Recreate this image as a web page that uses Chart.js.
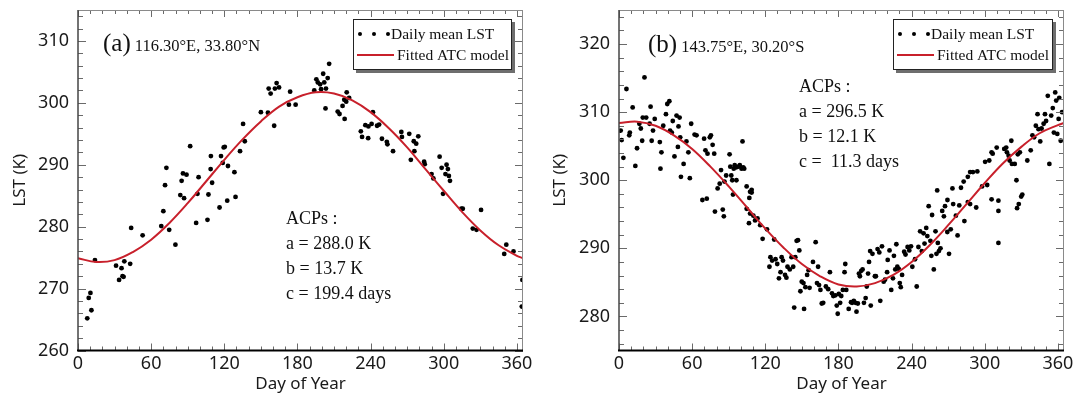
<!DOCTYPE html>
<html><head><meta charset="utf-8">
<script src="https://cdn.jsdelivr.net/npm/chart.js@4.4.1/dist/chart.umd.min.js"></script>
<style>
html,body{margin:0;padding:0;background:#fff;width:1074px;height:396px;overflow:hidden}
.p{position:absolute;top:0;width:537px;height:396px}
#pa{left:0}#pb{left:537px}
</style></head><body>
<div class="p" id="pa"><canvas id="ca" width="537" height="396"></canvas></div>
<div class="p" id="pb"><canvas id="cb" width="537" height="396"></canvas></div>
<script>
// ---------- data ----------
const xTickLabels = [0, 60, 120, 180, 240, 300, 360];
const yTickLabelsA = [260, 270, 280, 290, 300, 310];
const yTickLabelsB = [280, 290, 300, 310, 320];
const seriesNames = ['Daily mean LST', 'Fitted ATC model'];

// panel (a) daily mean LST [day, K]
const obsA = [
[7.6,265.2],[8.8,268.5],[10.2,269.3],[11,266.5],[13.9,274.6],[31.2,273.7],[33.7,271.4],[35.7,273.3],
[36.5,272],[37.4,271.9],[38,274.4],[42.8,274],[43.6,279.8],[53,278.6],[68.3,280.1],[70,282.5],
[71.4,286.7],[72.5,289.5],[74.8,279.5],[79.9,277.1],[83.9,285.1],[85,287.4],[86.1,288.6],[87,284.6],
[89,288.4],[92,293],[96.9,280.6],[98,285.3],[98.9,288],[106.2,281.1],[107,285.2],[108.8,289.3],
[109,291.4],[110,287.1],[116.1,283.1],[117.3,291.4],[118.7,290.3],[119.5,292.8],[120.4,292.9],[122.4,284.2],
[123,289.8],[128.3,288.8],[129.2,284.8],[132.9,292.2],[135.4,296.6],[136.8,293.8],[150,298.5],[155.8,298.4],
[156.4,302.3],[158,301.5],[160.9,296.3],[161.5,302.3],[162.9,303.2],[164.9,302.5],[173,299.7],[174,301.8],
[178.5,299.7],[193.8,302],[195.5,303.8],[196.7,303.3],[198.6,303],[199.4,302.2],[201.1,304.7],[202,303.3],
[203,299.1],[203.4,302.3],[204.8,304],[206,306.3],[213,298.6],[214.5,298.2],[217,299.5],[218.4,300.5],
[218.7,297.4],[220,300.2],[220.4,301.7],[222.4,300.8],[232,295.4],[233,294.5],[235.7,296.4],[238,294.3],
[238.2,296.2],[240.8,296.6],[241.9,298.5],[245.3,296.3],[247,296.5],[249.3,294.2],[253.3,293.7],[253.8,293.3],
[258.4,292.2],[265.2,295.3],[265.7,294.5],[271.7,295],[273,290.8],[275.4,293.8],[275.9,292.2],[277.4,293.4],
[279.1,294.6],[283.9,290.5],[284.4,290.1],[290,288.5],[291.5,287.8],[296.6,291.3],[298.3,289.5],[299.4,285.3],
[301.4,288.5],[302.3,290],[303.4,289.3],[304.2,288.2],[305.1,287.4],[314.4,282.9],[315.6,282.9],[323.8,279.7],
[326.9,279.5],[330.6,282.7],[349.6,275.6],[351.3,277.1],[357.2,276],[364.5,271.4],[364,267.1]
];

// panel (b) daily mean LST [day, K]
const obsB = [
[1.4,307.3],[2.2,305.9],[3.6,303.3],[6.1,313.4],[8.4,306.6],[8.9,307],[11.2,310.7],[13.4,302.1],
[14.8,304.7],[16.7,308.3],[17.9,307.6],[19.5,309.2],[20.9,315.1],[19,305.8],[22.3,309.2],[25.1,308.3],
[25.9,310.8],[26.8,305.8],[27.9,307.3],[29.3,309],[33.5,305.6],[34.8,304.1],[34,301.7],[36.3,308],
[38.5,309.7],[39.6,311.2],[41.3,311.6],[41.9,307.3],[43.3,307],[44.1,308.7],[45.5,303.5],[47.2,309.5],
[48.3,304.9],[48.8,307.9],[49.7,309.2],[50.2,306.3],[50.8,300.5],[53,302.4],[55.3,305.7],[56.9,304.1],
[58.1,300.3],[59.2,308.3],[62,306.7],[63.6,306.6],[69.8,306.1],[70.9,304.4],[72.6,303.9],[74.5,306.3],
[75.4,306.6],[76.8,305.2],[78.1,303.9],[80.9,298.8],[82.6,299.5],[83.7,301.5],[86.5,299.8],[87.9,300.7],
[90.7,303.8],[91.3,302],[92.1,300.7],[92.9,300],[94.1,301.7],[94.9,302.2],[96.3,301.9],[97.7,302],
[99.1,302.2],[100.5,301.7],[101.9,301.9],[102.7,301.7],[101.3,305.7],[96.3,300],[104.7,299.1],[107.5,298.3],
[108.8,298.6],[261,298.5],[269.4,297.1],[273.5,298.8],[280.5,298.9],[282.7,299.8],[286.1,300.5],[288,301.2],
[290.3,301.2],[293.9,301.3],[297.8,299.1],[300.3,302.7],[302,299.3],[303.7,302.9],[305.6,304.1],[306.5,303.9],
[309.8,304.8],[316,304.6],[317.6,304.8],[318.2,304.1],[319.6,303.6],[320.4,302.9],[321.8,305.8],[322.3,302.4],
[324.6,302.4],[326,300],[327.1,303.8],[328.8,304.1],[334.9,302.9],[337.7,304.4],[339.1,306.6],[340.5,306.3],
[341.9,308],[343.3,309.7],[344.1,307.5],[345.5,305.7],[346.6,307.6],[348.3,308.3],[349.4,309.7],[350.3,308.7],
[351.7,312.4],[353,302.4],[354.5,309.5],[355.8,310.6],[356.7,307],[357.8,312.9],[358.6,311.7],[359.5,306.8],
[360.6,309],[361.1,312.1],[362.3,305.8],[363.4,310],
[68.4,297.1],[72,297.3],[78.7,295.4],[85.1,295.7],[86,294.7],[93.5,297.9],[104.7,295.8],[106.6,293.7],
[106.9,297.4],[108.8,298.2],[107.5,295.1],[110.2,294.8],[111.6,294.1],[113.6,294.4],[115.8,293.4],[117.8,291.4],
[121.4,292.8],[123.4,287.3],[124.2,288.7],[125.6,288.2],[127.3,291.3],[128.4,288.4],[129.8,287.7],[131.2,285.6],
[132.5,286.5],[133.4,288.7],[134.5,288.2],[136.2,286.1],[137.3,285.7],[138.2,287.3],[140.1,286.9],[141.5,288.7],
[142.9,287.3],[143.7,281.3],[144.6,288.7],[145.7,291.1],[146.8,291.2],[147.9,289.7],[148.8,283.7],[149.9,285.1],
[151.3,284.9],[151.8,281.1],[152.9,284.3],[154.3,286.1],[155.5,286.8],[156.3,284.2],[159.1,288],[161.3,290.9],
[162.4,284.9],[163.3,287.3],[164.1,284.6],[165.2,283.9],[166.3,281.9],[167.5,282],[169.7,284.4],[171.6,284],
[173,286.5],[174.7,283.4],[175.8,283],[177.5,283.1],[178.6,281.6],[179.4,280.4],[180.3,283.3],[181.4,282],
[182.3,283],[183.6,283.9],[185,286.5],[185.6,287.7],[186.4,283.9],[188.4,281.1],[190.3,282.1],[191.2,282],
[192.6,282.3],[194,282],[194.8,280.7],[195.9,281.9],[196.8,286.3],[197.6,285.9],[198.7,286.7],[199.8,286.9],
[200.9,282],[202.3,282.7],[203.2,284.4],[204.3,286.3],[205.1,288],[206,289.6],[206.5,281.6],[207.9,289.2],
[209.9,285.9],[210.7,285.9],[212.1,289.9],[213.5,289.4],[214.3,282.3],[215.7,290.3],[217.1,285.1],[218.2,285.4],
[219.9,286.5],[220.4,288.3],[221.9,289.7],[223.3,283.9],[224.7,285.6],[225.5,288.9],[226.6,286.9],[227.5,290.6],
[228.3,287.3],[229.4,287],[230.3,284.9],[231.1,284.3],[232.2,286.1],[233.9,289.5],[235,289.1],[236.7,290.2],
[238.1,289.7],[239.5,290.3],[240.6,287.3],[242.8,288.4],[244.2,284.4],[245.6,290.2],[247,292.5],[248.4,289.6],
[249.8,292.2],[250.6,290.7],[252,293],[252.9,291.8],[254,296.2],[255.4,291.1],[256.2,288.9],[256.8,294.9],
[258.2,286.9],[259.6,292.5],[260.4,289.2],[261.5,290.8],[262.4,289.6],[263.7,290],[265.1,295.5],[266.5,294.7],
[267.4,296.2],[269.3,292.4],[270.7,289.2],[272.1,292.8],[274.1,296.5],[276.3,294.8],[277.7,291.9],[279.1,296.3],
[283.3,294],[286.1,296.8],[288,296.5],[293,296],[305.6,297.2],[311.2,297],[311.2,295.5],[311.2,290.8],
[326.5,295.9],[327.9,296.5],[329.9,297.6],[330.8,297.9]
];

// fitted ATC curves
const curveDays = [0,15,30,45,60,75,90,105,120,135,150,165,180,195,210,225,240,255,270,285,300,315,330,345,360,365];
const fitA = [274.9,274.3,274.6,275.9,277.9,280.6,283.8,287.3,290.8,294.1,297.0,299.4,300.9,301.7,301.5,300.4,298.5,295.9,292.8,289.3,285.8,282.4,279.4,277.0,275.3,274.9];
const fitB = [308.4,308.6,308.0,306.6,304.6,302.0,299.1,296.0,292.9,290.1,287.7,285.9,284.7,284.4,284.9,286.1,288.0,290.5,293.4,296.5,299.6,302.5,304.9,306.9,308.1,308.4];

const labelA = '(a)', coordA = '116.30°E, 33.80°N';
const labelB = '(b)', coordB = '143.75°E, 30.20°S';
const acpA = ['ACPs :', 'a = 288.0 K', 'b = 13.7 K', 'c = 199.4 days'];
const acpB = ['ACPs :', 'a = 296.5 K', 'b = 12.1 K', 'c =  11.3 days'];

// ---------- drawing ----------
const SANS = "'Noto Sans', 'Open Sans', sans-serif";
const SERIF = "'Liberation Serif', 'Times New Roman', serif";
const RED = '#c8202b';

const framePlugin = {
  id: 'frame',
  afterDatasetsDraw(chart) {
    const {ctx, chartArea: a, scales: {x, y}} = chart;
    ctx.save();
    ctx.strokeStyle = '#6a6a6a'; ctx.lineWidth = 1;
    ctx.beginPath();
    for (let d = 0; d <= 360; d += 10) {
      const px = Math.round(x.getPixelForValue(d)) + 0.5;
      const L = d % 60 === 0 ? 7 : 4;
      ctx.moveTo(px, a.bottom); ctx.lineTo(px, a.bottom - L);
      ctx.moveTo(px, a.top); ctx.lineTo(px, a.top + L);
    }
    for (let v = Math.ceil(y.min / 2) * 2; v <= y.max; v += 2) {
      const py = Math.round(y.getPixelForValue(v)) + 0.5;
      const L = v % 10 === 0 ? 8 : 5;
      ctx.moveTo(a.left, py); ctx.lineTo(a.left + L, py);
      ctx.moveTo(a.right, py); ctx.lineTo(a.right - L, py);
    }
    ctx.stroke();
    ctx.strokeStyle = '#8a8a8a'; ctx.lineWidth = 1;
    ctx.beginPath();
    ctx.moveTo(a.left, a.top + 0.5); ctx.lineTo(a.right, a.top + 0.5);
    ctx.moveTo(a.right - 0.5, a.top); ctx.lineTo(a.right - 0.5, a.bottom);
    ctx.stroke();
    ctx.strokeStyle = '#444'; ctx.lineWidth = 1.5;
    ctx.beginPath(); ctx.moveTo(a.left, a.top); ctx.lineTo(a.left, a.bottom); ctx.stroke();
    ctx.strokeStyle = '#000'; ctx.lineWidth = 2;
    ctx.beginPath(); ctx.moveTo(a.left - 1, a.bottom); ctx.lineTo(a.right, a.bottom); ctx.stroke();
    ctx.restore();
  },
  afterDraw(chart, args, o) {
    const ctx = chart.ctx;
    const ox = o.offsetX;
    ctx.save();
    ctx.fillStyle = '#111';
    ctx.textBaseline = 'alphabetic'; ctx.textAlign = 'left';
    ctx.font = '25px ' + SERIF;
    ctx.fillText(o.label, o.labelX - ox, o.labelY);
    const lw = ctx.measureText(o.label).width;
    ctx.font = '16.5px ' + SERIF;
    ctx.fillText(o.coord, o.labelX - ox + lw + 4, o.labelY);
    ctx.font = '18px ' + SERIF;
    ctx.textBaseline = 'middle';
    o.acp.forEach((t, i) => ctx.fillText(t, o.acpX - ox, o.acpY + i * 25));
    // legend box
    const bx = o.box[0] - ox, by = o.box[1], bw = o.box[2], bh = o.box[3];
    ctx.fillStyle = '#6e6e6e'; ctx.fillRect(bx + 3, by + 3, bw, bh);
    ctx.fillStyle = '#fff'; ctx.fillRect(bx, by, bw, bh);
    ctx.strokeStyle = '#222'; ctx.lineWidth = 1;
    ctx.strokeRect(bx + 0.5, by + 0.5, bw - 1, bh - 1);
    const y1 = by + 15, y2 = by + 36;
    ctx.fillStyle = '#000';
    [7, 21, 35].forEach(dx => { ctx.beginPath(); ctx.arc(bx + dx, y1, 2, 0, Math.PI * 2); ctx.fill(); });
    ctx.strokeStyle = RED; ctx.lineWidth = 2;
    ctx.beginPath(); ctx.moveTo(bx + 4, y2); ctx.lineTo(bx + 41, y2); ctx.stroke();
    ctx.fillStyle = '#111';
    ctx.font = '15.5px ' + SERIF;
    ctx.fillText(chart.data.datasets[0].label, bx + 38, y1 + 1);
    ctx.fillText(chart.data.datasets[1].label, bx + 44, y2 + 1);
    ctx.restore();
  }
};

function makeChart(id, obs, fit, yMin, yMax, yTicks, axW, padR, titlePad, annot) {
  return new Chart(document.getElementById(id), {
    type: 'scatter',
    data: {
      datasets: [
        { label: seriesNames[0], data: obs.map(p => ({x: p[0], y: p[1]})),
          pointRadius: 2.4, pointBackgroundColor: '#000', pointBorderWidth: 0, showLine: false, order: 2 },
        { label: seriesNames[1], type: 'line', data: curveDays.map((d, i) => ({x: d, y: fit[i]})),
          borderColor: RED, borderWidth: 2, pointRadius: 0, tension: 0.4, fill: false, order: 1 }
      ]
    },
    options: {
      responsive: false, animation: false, events: [],
      layout: { padding: { top: 10, right: padR, left: 0, bottom: 0 } },
      plugins: { legend: { display: false }, tooltip: { enabled: false }, frame: annot },
      scales: {
        x: {
          type: 'linear', min: 0, max: 365,
          afterBuildTicks(s) { s.ticks = xTickLabels.map(v => ({value: v})); },
          afterFit(s) { s.height = 45.5; s.paddingLeft = 0; s.paddingRight = 0; },
          grid: { display: false, drawTicks: false }, border: { display: false },
          ticks: { padding: 3, color: '#1a1a1a', font: { family: SANS, size: 18 }, maxRotation: 0, autoSkip: false },
          title: { display: true, text: 'Day of Year', color: '#1a1a1a', font: { family: SANS, size: 17 }, padding: { top: 0, bottom: 2 } }
        },
        y: {
          type: 'linear', min: yMin, max: yMax,
          afterBuildTicks(s) { s.ticks = yTicks.map(v => ({value: v})); },
          afterFit(s) { s.width = axW; s.paddingTop = 0; s.paddingBottom = 0; },
          grid: { display: false, drawTicks: false }, border: { display: false },
          ticks: { padding: 9, color: '#1a1a1a', font: { family: SANS, size: 18 }, autoSkip: false },
          title: { display: true, text: 'LST (K)', color: '#1a1a1a', font: { family: SANS, size: 17 }, padding: { top: titlePad, bottom: 0 } }
        }
      }
    },
    plugins: [framePlugin]
  });
}

makeChart('ca', obsA, fitA, 260, 315, yTickLabelsA, 78, 14, 10, {
  offsetX: 0, label: labelA, coord: coordA, labelX: 103, labelY: 51,
  acp: acpA, acpX: 286, acpY: 219, box: [353, 19, 159, 51]
});
makeChart('cb', obsB, fitB, 275, 325, yTickLabelsB, 82, 10, 13, {
  offsetX: 537, label: labelB, coord: coordB, labelX: 648, labelY: 52,
  acp: acpB, acpX: 799, acpY: 87, box: [893, 19, 160, 51]
});
</script>
</body></html>
